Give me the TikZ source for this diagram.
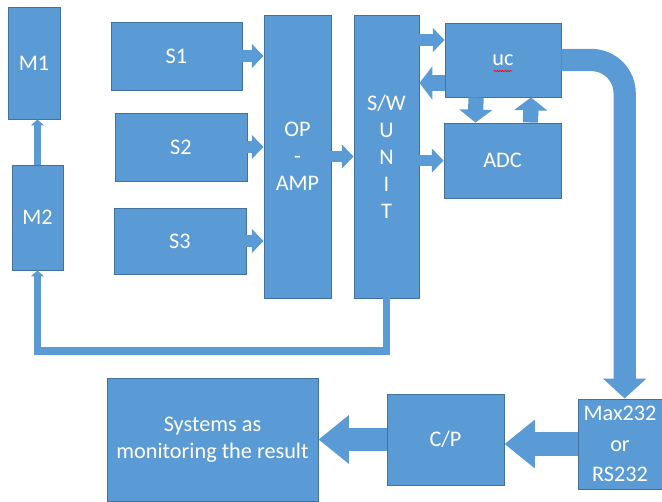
\documentclass[tikz,border=0pt]{standalone}
\usepackage{fontspec}
\setmainfont{Carlito}
\usetikzlibrary{arrows.meta,decorations.pathmorphing}
\definecolor{boxblue}{HTML}{5B9BD5}
\definecolor{boxedge}{HTML}{41719C}

\begin{document}
\begin{tikzpicture}[
  x=0.03cm, y=-0.03cm,
  block/.style={rectangle,draw=boxedge,fill=boxblue,line width=0.8pt,inner sep=0pt,text=white,align=center,font=\fontsize{19}{23}\selectfont},
  sarrow/.style={boxblue,line width=10pt,-{Triangle[width=20pt,length=10pt]}},
  varrow/.style={boxblue,line width=13pt,-{Triangle[width=28pt,length=11pt]}},
  tarrow/.style={boxblue,line width=6pt,-{Triangle[width=11pt,length=5pt]}},
  marrow/.style={boxblue,line width=20pt,-{Triangle[width=40pt,length=26pt]}},
  barrow/.style={boxblue,line width=19pt,rounded corners=1.0cm,-{Triangle[width=36pt,length=17pt]}}
]
  \useasboundingbox (0,0) rectangle (662,502);
  \clip (0,0) rectangle (662,502);
  \node[block,minimum width=1.56cm,minimum height=3.36cm] (m1) at (34,63) {M1};
  \node[block,minimum width=1.53cm,minimum height=3.15cm] (m2) at (37.5,217.5) {M2};
  \node[block,minimum width=3.93cm,minimum height=2.04cm] (s1) at (176.5,56) {S1};
  \node[block,minimum width=3.96cm,minimum height=2.04cm] (s2) at (181,147) {S2};
  \node[block,minimum width=3.96cm,minimum height=1.98cm] (s3) at (180,241) {S3};
  \node[block,minimum width=2.01cm,minimum height=8.49cm] (op) at (297.5,156.5) {OP\\-\\AMP};
  \node[block,minimum width=1.95cm,minimum height=8.49cm] (sw) at (386.5,156.5) {S/W\\U\\N\\I\\T};
  \node[block,minimum width=3.48cm,minimum height=2.22cm] (uc) at (503,60) {uc};
  \node[block,minimum width=3.51cm,minimum height=2.25cm] (adc) at (502.5,160.5) {ADC};
  \node[block,minimum width=2.52cm,minimum height=2.7cm,font=\fontsize{19}{26}\selectfont] (max) at (620,444) {Max232\\or\\RS232};
  \node[block,minimum width=3.51cm,minimum height=2.73cm] (cp) at (445.5,439.5) {C/P};
  \node[block,minimum width=6.33cm,minimum height=3.69cm] (sys) at (212.5,439.5) {Systems as\\monitoring the result};
  % spell-check mark under uc
  \draw[red,line width=0.6pt,decorate,decoration={snake,amplitude=0.5pt,segment length=2.2pt}]
    ([shift={(-9,11)}]uc.center) -- ([shift={(9,11)}]uc.center);
  % sensors into the amplifier
  \draw[sarrow] (s1.east) -- (s1.east -| op.west);
  \draw[sarrow] (s2.east) -- (s2.east -| op.west);
  \draw[sarrow] (s3.east) -- (s3.east -| op.west);
  \draw[sarrow] (op.east) -- (sw.west);
  \coordinate (ucin) at ([yshift=0.6cm]uc.west);
  \coordinate (ucout) at ([yshift=-0.69cm]uc.west);
  \draw[sarrow] (ucin -| sw.east) -- (ucin);
  \draw[varrow] (ucout) -- (ucout -| sw.east);
  \draw[sarrow] (adc.west -| sw.east) -- (adc.west);
  \draw[varrow] ([xshift=-0.81cm]uc.south) -- ([xshift=-0.81cm]adc.north);
  \draw[varrow] ([xshift=0.84cm]adc.north) -- ([xshift=0.84cm]uc.south);
  % motors
  \draw[tarrow] (m2.north) -- (m2.north |- m1.south);
  \coordinate (fb) at (0,351);
  \draw[tarrow] (sw.south) |- (fb -| m2.south) -- (m2.south);
  % output chain
  \draw[barrow] (uc.east) -| ([xshift=0.14cm]max.north);
  \draw[marrow] (max.west) -- (max.west -| cp.east);
  \draw[marrow] (cp.west) -- (cp.west -| sys.east);
\end{tikzpicture}
\end{document}
